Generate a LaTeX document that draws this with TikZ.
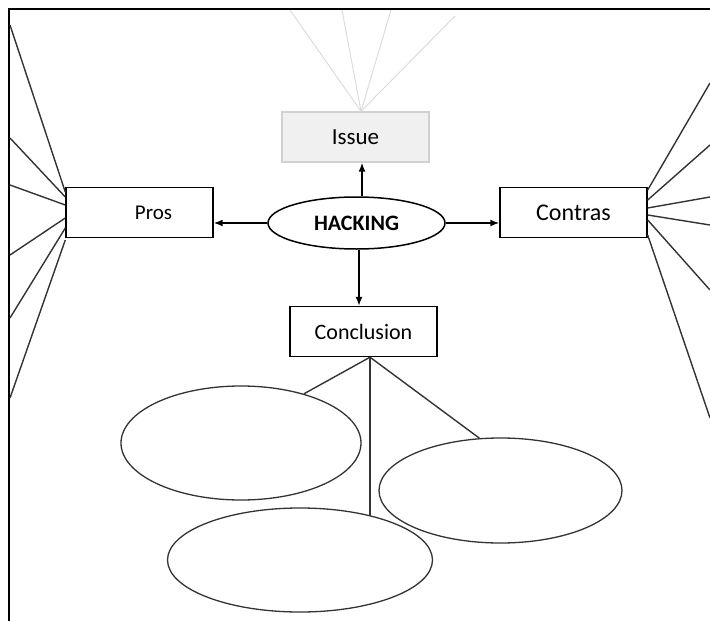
\documentclass[tikz,border=0pt]{standalone}
\usepackage{fontspec}
\setmainfont{Carlito}
\usetikzlibrary{shapes.geometric,arrows.meta}
\newcommand{\fs}[1]{\fontsize{#1}{#1}\selectfont}

\tikzset{
    box/.style={draw=black, line width=1.4pt, minimum width=147pt, minimum height=50pt, inner sep=0pt},
    blob/.style={draw=black!80, ellipse, line width=1.3pt, inner sep=0pt},
    spoke/.style={draw=black!80, line width=1.4pt},
    arr/.style={-{Latex[length=9pt,width=7pt]}, line width=1.5pt},
}

\begin{document}
\begin{tikzpicture}[x=1pt, y=-1pt]
    \useasboundingbox (0,0) rectangle (710,621);
    % frame
    \draw[line width=2.2pt] (9,622) -- (9,9) -- (712,9);

    \node[box, draw=black!18, fill=black!6] (issue) at (355.5,137) {\fs{23}Issue};
    \node[blob, draw=black, line width=1.5pt, minimum width=177pt, minimum height=52pt] (hack) at (356.5,223) {\fs{22}\bfseries HACKING};
    \node[box] (pros) at (139.5,212.5) {\fs{21}\hspace*{28pt}Pros};
    \node[box] (contras) at (573.5,212.5) {\fs{24}Contras};
    \node[box] (conc) at (363.5,331.5) {\fs{22}Conclusion};

    \node[blob, minimum width=240pt, minimum height=114pt] (left) at (241,443) {};
    \node[blob, minimum width=265pt, minimum height=104pt] (bottom) at (300,560) {};
    \node[blob, minimum width=243pt, minimum height=105pt] (right) at (500.5,490.5) {};

    \draw[arr] (hack.north -| 362,0) -- (issue.south -| 362,0);
    \draw[arr] (hack.west) -- (pros.east |- hack.west);
    \draw[arr] (hack.east) -- (contras.west |- hack.east);
    \draw[arr] (hack.south -| 359,0) -- (conc.north -| 359,0);

    % faint lines above the issue
    \coordinate (itop) at (issue.north -| 361,0);
    \foreach \x/\y [count=\i] in {290/10,342/10,391/10,455/16} {
        \coordinate (t\i) at (\x,\y);
        \draw[black!15, line width=.9pt] (itop) -- (t\i);
    }

    % pros spokes
    \foreach \a/\b [count=\i] in {25/192,138/197,185/205,255/218,318/228,398/240} {
        \coordinate (pl\i) at (10,\a);
        \draw[spoke] (pl\i) -- (pros.west |- 0,\b);
    }

    % contras spokes
    \foreach \a/\b [count=\i] in {83/190,145/200,197/208,225/215,290/220,418/235} {
        \coordinate (cr\i) at (710,\a);
        \draw[spoke] (contras.east |- 0,\b) -- (cr\i);
    }

    % conclusion branches
    \coordinate (croot) at (conc.south -| 370,0);
    \draw[spoke] (croot) -- (left.38);
    \draw[spoke] (croot) -- (croot |- bottom.32);
    \draw[spoke] (croot) -- (right.112);
\end{tikzpicture}
\end{document}
